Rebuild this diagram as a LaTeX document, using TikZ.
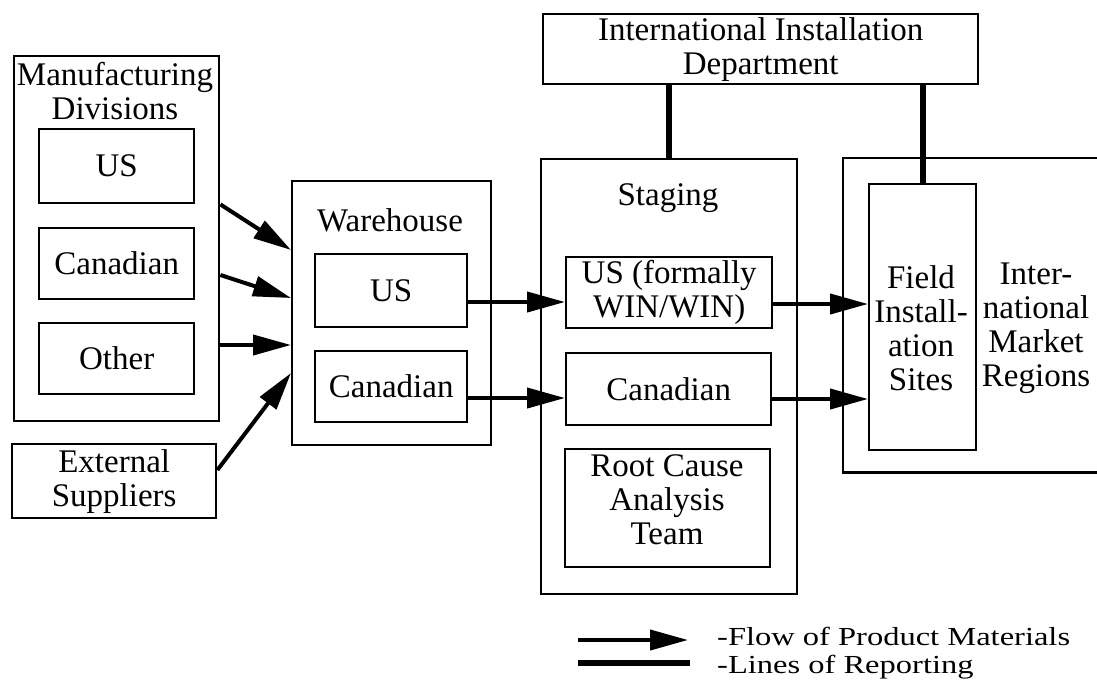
\documentclass[tikz,border=0pt]{standalone}
\usepackage{fontspec}
\setmainfont{Liberation Serif}
\newfontfamily\legendfont[FakeStretch=1.25]{Liberation Serif}
\usetikzlibrary{arrows.meta}
\begin{document}
\begin{tikzpicture}[x=1pt,y=-1pt,
  every node/.style={font=\fontsize{33}{34}\selectfont, inner sep=0pt},
  box/.style={draw, line width=2.4pt, anchor=north west, align=center},
  txt/.style={align=center},
  legend/.style={anchor=base west, font=\legendfont\fontsize{26}{28}\selectfont},
  flow/.style={line width=4pt, -{Triangle[length=38pt,width=20pt]}},
  report/.style={line width=6pt}]
\useasboundingbox (0,0) rectangle (1097,686);
% Manufacturing divisions
\node[box, minimum width=205pt, minimum height=365pt] (mfg) at (13,55) {};
\node[txt] (mfgt) at (115,91) {Manufacturing\\Divisions};
\node[box, minimum width=155pt, minimum height=74pt] (mus) at (38,128) {US};
\node[box, minimum width=155pt, minimum height=71pt] (mcan) at (38,227) {Canadian};
\node[box, minimum width=155pt, minimum height=71pt] (moth) at (38,322) {Other};
\node[box, minimum width=204pt, minimum height=74pt] (ext) at (11,443) {External\\Suppliers};
% Warehouse
\node[box, minimum width=199pt, minimum height=264pt] (wh) at (291,180) {};
\node[txt] (wht) at (390,220) {Warehouse};
\node[box, minimum width=152pt, minimum height=73pt] (wus) at (314,253) {US};
\node[box, minimum width=152pt, minimum height=71pt] (wcan) at (314,350) {Canadian};
% Staging
\node[box, minimum width=256pt, minimum height=435pt] (stg) at (540,158) {};
\node[txt] (stgt) at (668,198) {Staging};
\node[box, minimum width=206pt, minimum height=71pt] (sus) at (565,256) {US (formally\\WIN/WIN)};
\node[box, minimum width=205pt, minimum height=72pt] (scan) at (565,352) {Canadian};
\node[box, minimum width=205pt, minimum height=118pt] (rca) at (564,448) {};
\node[txt] (rcat) at (667,500) {Root Cause\\Analysis\\Team};
% International Installation Department
\node[box, minimum width=435pt, minimum height=70pt] (iid) at (542,13) {International Installation\\Department};
% Market regions (open to the right)
\node[anchor=north west, minimum width=254pt, minimum height=314pt] (mkt) at (843,158) {};
\draw[line width=2.4pt] (mkt.north east) -- (mkt.north west) -- (mkt.south west) -- (mkt.south east);
\node[box, minimum width=107pt, minimum height=266pt] (fld) at (868,183) {};
\node[txt] (fldt) at (921,328) {Field\\Install-\\ation\\Sites};
\node[txt] (mktt) at (1036,328) {Inter-\\national\\Market\\Regions};
% Flow arrows
\draw[flow] (mfg.east |- mus.south) -- ([yshift=-70pt]wh.north west);
\draw[flow] ([yshift=-220pt]mfg.north east) -- ([yshift=-118pt]wh.north west);
\draw[flow] ([yshift=-290pt]mfg.north east) -- ([yshift=-165pt]wh.north west);
\draw[flow] ([yshift=-27pt]ext.north east) -- ([yshift=-193pt]wh.north west);
\draw[flow] ([yshift=-49pt]wus.north east) -- ([yshift=-46pt]sus.north west);
\draw[flow] ([yshift=-48pt]wcan.north east) -- ([yshift=-46pt]scan.north west);
\draw[flow] ([yshift=-48pt]sus.north east) -- ([yshift=-121pt]fld.north west);
\draw[flow] ([yshift=-47pt]scan.north east) -- ([yshift=-216pt]fld.north west);
% Reporting lines
\draw[report] (stg.north) -- (stg.north |- iid.south);
\draw[report] (fld.north) -- (fld.north |- iid.south);
% Legend
\coordinate (la1) at (578,640);
\coordinate (la2) at (688,640);
\coordinate (lr1) at (578,663);
\coordinate (lr2) at (690,663);
\draw[flow] (la1) -- (la2);
\draw[report] (lr1) -- (lr2);
\node[legend] (lgf) at (717,645) {-Flow of Product Materials};
\node[legend] (lgr) at (717,673) {-Lines of Reporting};
\end{tikzpicture}
\end{document}
